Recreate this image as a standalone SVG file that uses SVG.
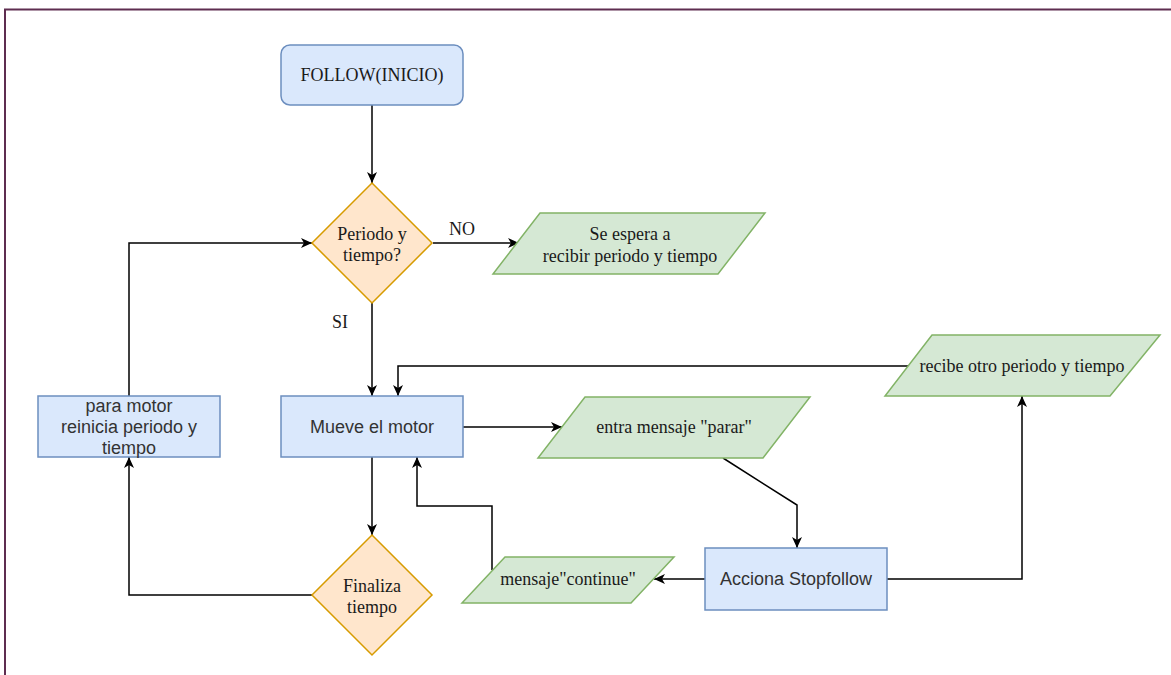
<svg xmlns="http://www.w3.org/2000/svg" width="1171" height="675" viewBox="0 0 1171 675">
  <defs>
    <marker id="arrow" markerUnits="userSpaceOnUse" markerWidth="12" markerHeight="10" refX="11" refY="5" orient="auto">
      <path d="M0,0 L11,5 L0,10 L3,5 z" fill="#000"/>
    </marker>
    <style>
      .proc { fill: #dae8fc; stroke: #6c8ebf; stroke-width: 1.5; }
      .dec { fill: #ffe6cc; stroke: #d79b00; stroke-width: 1.5; }
      .io { fill: #d5e8d4; stroke: #82b366; stroke-width: 1.5; }
      .serif { font-family: "Liberation Serif", "Times New Roman", serif; font-size: 18px; fill: #1a1a1a; text-anchor: middle; }
      .sans { font-family: "Liberation Sans", Arial, sans-serif; font-size: 18px; fill: #333; text-anchor: middle; }
      .edge { fill: none; stroke: #000; stroke-width: 1.5; }
      .frame { fill: none; stroke: #5e2d50; stroke-width: 2; }
    </style>
  </defs>

  <rect width="1171" height="675" fill="#fff"/>
  <!-- page frame -->
  <path class="frame" d="M5,675 V9.5 H1171"/>

  <g id="connectors">
    <path class="edge" d="M372,105 V183" marker-end="url(#arrow)"/>
    <path class="edge" d="M433,243 H519" marker-end="url(#arrow)"/>
    <path class="edge" d="M372,303 V396" marker-end="url(#arrow)"/>
    <path class="edge" d="M372,457 V535" marker-end="url(#arrow)"/>
    <path class="edge" d="M312,595 H129 V457" marker-end="url(#arrow)"/>
    <path class="edge" d="M129,396 V243 H312" marker-end="url(#arrow)"/>
    <path class="edge" d="M463,427 H562" marker-end="url(#arrow)"/>
    <path class="edge" d="M723,458 L797,505 V548" marker-end="url(#arrow)"/>
    <path class="edge" d="M705,579 H654" marker-end="url(#arrow)"/>
    <path class="edge" d="M492,570 V506 H417 V457" marker-end="url(#arrow)"/>
    <path class="edge" d="M887,579 H1022 V396" marker-end="url(#arrow)"/>
    <path class="edge" d="M908,366 H398 V396" marker-end="url(#arrow)"/>
    <text class="serif" x="462" y="235">NO</text>
    <text class="serif" x="340" y="328">SI</text>
  </g>

  <g id="inicio">
    <rect class="proc" x="281" y="45" width="182" height="60" rx="9"/>
    <text class="serif" x="372" y="81">FOLLOW(INICIO)</text>
  </g>

  <g id="periodo-tiempo">
    <path class="dec" d="M372,183 L432,243 L372,303 L312,243 z"/>
    <text class="serif" x="372" y="240">Periodo y</text>
    <text class="serif" x="372" y="261">tiempo?</text>
  </g>

  <g id="espera">
    <path class="io" d="M540,213 H765 L718,274 H493 z"/>
    <text class="serif" x="630" y="240">Se espera a</text>
    <text class="serif" x="630" y="262">recibir periodo y tiempo</text>
  </g>

  <g id="mueve-motor">
    <rect class="proc" x="281" y="396" width="182" height="61"/>
    <text class="sans" x="372" y="433">Mueve el motor</text>
  </g>

  <g id="para-motor">
    <rect class="proc" x="38" y="396" width="182" height="61"/>
    <text class="sans" x="129" y="412">para motor</text>
    <text class="sans" x="129" y="433">reinicia periodo y</text>
    <text class="sans" x="129" y="454">tiempo</text>
  </g>

  <g id="finaliza">
    <path class="dec" d="M372,535 L432,595 L372,655 L312,595 z"/>
    <text class="serif" x="372" y="592">Finaliza</text>
    <text class="serif" x="372" y="613">tiempo</text>
  </g>

  <g id="entra-parar">
    <path class="io" d="M585,397 H810 L763,458 H538 z"/>
    <text class="serif" x="674" y="433">entra mensaje "parar"</text>
  </g>

  <g id="recibe-otro">
    <path class="io" d="M932,335 H1160 L1110,396 H885 z"/>
    <text class="serif" x="1022" y="372">recibe otro periodo y tiempo</text>
  </g>

  <g id="stopfollow">
    <rect class="proc" x="705" y="548" width="182" height="62"/>
    <text class="sans" x="796" y="585">Acciona Stopfollow</text>
  </g>

  <g id="continue">
    <path class="io" d="M505,557 H674 L631,603 H462 z"/>
    <text class="serif" x="568" y="585">mensaje"continue"</text>
  </g>
</svg>
